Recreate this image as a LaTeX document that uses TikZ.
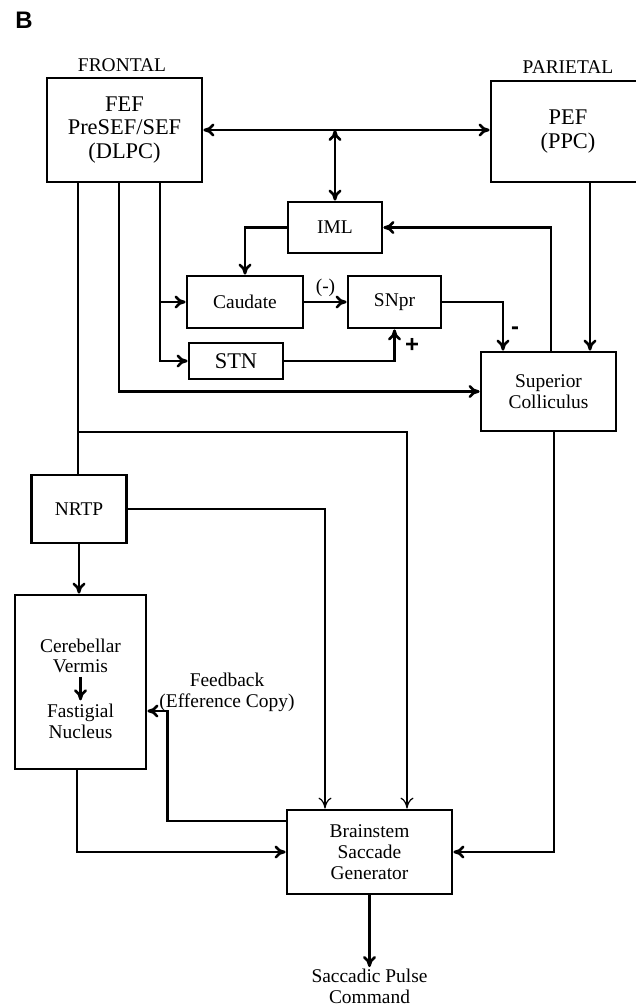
\documentclass[tikz,border=0pt]{standalone}
\usepackage{fontspec}
\setmainfont{Liberation Serif}
\newfontfamily\panelsans{Liberation Sans}
\usepackage{tikz}
\usetikzlibrary{positioning, arrows.meta, calc}
\newcommand{\cortexfont}{\fontsize{22.5}{23.5}\selectfont}
\newcommand{\relayfont}{\fontsize{19.5}{20.8}\selectfont}
\newcommand{\signfont}{\panelsans\bfseries\fontsize{24}{24}\selectfont}
\tikzset{
  >={Computer Modern Rightarrow[length=11bp, width=13bp]},
  every node/.style={font=\relayfont, align=center},
  cortex/.style={
    rectangle, draw, line width=2.8bp, align=center,
    inner sep=0pt, font=\cortexfont
  },
  relay/.style={
    rectangle, draw, line width=2.8bp, align=center,
    inner sep=0pt, font=\relayfont
  },
  flowline/.style={line width=2.6bp},
  flowarrow/.style={->, line width=2.6bp},
  thinarrow/.style={->, line width=1.2bp},
  arealabel/.style={font=\relayfont},
  signlabel/.style={font=\signfont}
}

\begin{document}
\begin{tikzpicture}[x=1bp, y=-1bp]
\useasboundingbox (0,0) rectangle (636,1008);

% Panel letter and lobe titles
\node[font=\panelsans\bfseries\fontsize{24}{24}\selectfont] (panel) at (24,20) {B};
\node[arealabel] (frontal) at (122,65) {FRONTAL};
\node[arealabel] (parietal) at (568,67) {PARIETAL};

% Cortical areas
\node[cortex, minimum width=155bp, minimum height=104bp] (FEF) at (124.5,130)
  {FEF\\PreSEF/SEF\\(DLPC)};
\node[cortex, minimum width=154bp, minimum height=101bp] (PEF) at (568,131.5)
  {PEF\\(PPC)};

% Basal ganglia loop
\node[relay, minimum width=94bp, minimum height=51bp] (IML) at (335,227.5) {IML};
\node[relay, minimum width=116bp, minimum height=52bp] (Caudate) at (245,302) {Caudate};
\node[relay, minimum width=93bp, minimum height=52bp] (SNpr) at (394.5,302) {SNpr};
\node[relay, minimum width=94bp, minimum height=36bp, font=\cortexfont] (STN) at (236,361) {STN};
\node[relay, minimum width=135bp, minimum height=79bp] (SC) at (548.5,391.5)
  {Superior\\Colliculus};

% Pontine and cerebellar path
\node[relay, minimum width=95bp, minimum height=68bp] (NRTP) at (79,509) {NRTP};
\node[relay, minimum width=131bp, minimum height=174bp] (Cereb) at (80.5,682) {};
\node (vermis) at (80.5,656) {Cerebellar\\Vermis};
\node (fastigial) at (80.5,721) {Fastigial\\Nucleus};

% Brainstem output
\node[relay, minimum width=165bp, minimum height=84bp] (BSG) at (369.5,852)
  {Brainstem\\Saccade\\Generator};
\node[anchor=north, inner sep=2bp] (cmd) at (369.5,967) {Saccadic Pulse\\Command};
\node (feedback) at (227,692) {Feedback\\(Efference Copy)};

% Junction points
\coordinate (fefA) at ([xshift=-46.5bp]FEF.south);
\coordinate (fefB) at ([xshift=-5.5bp]FEF.south);
\coordinate (fefC) at ([xshift=35.5bp]FEF.south);
\coordinate (split) at (78,432);
\coordinate (bsgA) at ([xshift=-44.5bp]BSG.north);
\coordinate (bsgB) at ([xshift=37.5bp]BSG.north);
\coordinate (scIn) at ([xshift=-45.5bp]SC.north);
\coordinate (scOut) at ([xshift=2.5bp]SC.north);
\coordinate (pefOut) at ([xshift=22bp]PEF.south);
\coordinate (fbOut) at ([yshift=31bp]BSG.west);
\coordinate (fbIn) at ([yshift=-29bp]Cereb.east);

% Cortex to cortex and thalamus
\draw[flowarrow, <->] (FEF.east) -- (FEF.east -| PEF.west);
\draw[flowarrow, <->] (IML.north |- FEF.east) -- (IML.north);
\draw[flowarrow] (IML.west) -| (Caudate.north);

% Basal ganglia
\draw[flowarrow] (Caudate.east) -- node[above=1bp] {(-)} (SNpr.west);
\draw[flowarrow] (STN.east) -| (SNpr.south);
\node[signlabel] (plus) at (412,345) {+};
\draw[flowarrow] (SNpr.east) -| (scIn);
\node[signlabel] (minus) at (515,331) {-};
\draw[flowarrow] (scOut) |- (IML.east);
\draw[flowarrow] (pefOut) -- (pefOut |- SC.north);

% Frontal descending lines
\draw[flowarrow] (fefC) |- (STN.west);
\draw[flowarrow] (fefC |- Caudate.west) -- (Caudate.west);
\draw[flowarrow] (fefB) |- (SC.west);
\draw[flowline] (fefA) -- (fefA |- NRTP.north);
\draw[thinarrow] (split) -| (bsgB);
\draw[thinarrow] (NRTP.east) -| (bsgA);

% Cerebellum and brainstem
\draw[flowarrow] (NRTP.south) -- (NRTP.south |- Cereb.north);
\draw[flowarrow] (vermis) -- (fastigial);
\draw[flowarrow] ([xshift=-3.5bp]Cereb.south) |- (BSG.west);
\draw[flowarrow] (fbOut) -| ([xshift=20bp]fbIn) -- (fbIn);
\draw[flowarrow] ([xshift=5.5bp]SC.south) |- (BSG.east);
\draw[flowarrow] (BSG.south) -- (cmd.north);

\end{tikzpicture}
\end{document}
